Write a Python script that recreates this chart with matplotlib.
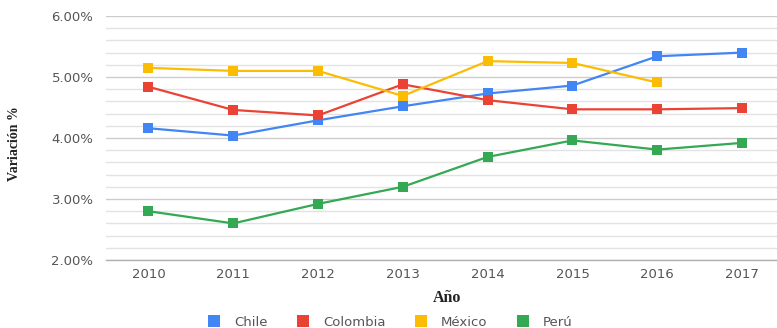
import matplotlib
matplotlib.use("Agg")
import matplotlib.pyplot as plt
from matplotlib.lines import Line2D
from matplotlib.ticker import MultipleLocator, FuncFormatter
import numpy as np

years = ["2010", "2011", "2012", "2013", "2014", "2015", "2016", "2017"]
chile = [4.16, 4.04, 4.29, 4.52, 4.73, 4.86, 5.34, 5.40]
colombia = [4.84, 4.46, 4.37, 4.88, 4.62, 4.47, 4.47, 4.49]
mexico = [5.15, 5.10, 5.10, 4.69, 5.26, 5.23, 4.91, None]
peru = [2.80, 2.60, 2.92, 3.20, 3.69, 3.96, 3.81, 3.92]

series_names = ["Chile", "Colombia", "México", "Perú"]
series_colors = ["#4285F4", "#EA4335", "#FBBC04", "#34A853"]
series_values = [chile, colombia, mexico, peru]

W, H = 777, 328
fig = plt.figure(figsize=(W / 100, H / 100), dpi=100)
left, right = 106 / W, 784.5 / W
bottom, top = 1 - 260 / H, 1 - 16 / H
ax = fig.add_axes([left, bottom, right - left, top - bottom])

x = np.arange(len(years))
for name, color, vals in zip(series_names, series_colors, series_values):
    y = np.array([np.nan if v is None else v for v in vals], dtype=float)
    ax.plot(x, y, color=color, lw=1.6, marker="s", markersize=7,
            markeredgewidth=0, label=name, zorder=3)

ax.set_xlim(-0.5, len(years) - 0.5)
ax.set_ylim(2.0, 6.0)
ax.yaxis.set_major_locator(MultipleLocator(1.0))
ax.yaxis.set_minor_locator(MultipleLocator(0.2))
ax.yaxis.set_major_formatter(FuncFormatter(lambda v, p: f"{v:.2f}%"))
ax.set_xticks(x)
ax.set_xticklabels(years)

ax.grid(which="major", axis="y", color="#cccccc", lw=1.0, zorder=0)
ax.grid(which="minor", axis="y", color="#e2e2e2", lw=1.0, zorder=0)
for s in ["top", "right", "left"]:
    ax.spines[s].set_visible(False)
ax.spines["bottom"].set_color("#b0b0b0")
ax.spines["bottom"].set_linewidth(1.0)

ax.tick_params(axis="both", which="both", length=0, colors="#555555")
ax.tick_params(axis="y", pad=9)
ax.tick_params(axis="x", pad=6)
for lab in ax.get_xticklabels() + ax.get_yticklabels():
    lab.set_fontfamily("DejaVu Sans")
    lab.set_fontsize(9.5)

fig.text(15 / W, 1 - 144 / H, "Variación %", rotation=90, ha="center", va="center",
         family="Liberation Serif", fontweight="bold", fontsize=10, color="#222222")
fig.text(447 / W, 1 - 298 / H, "Año", ha="center", va="center",
         family="Liberation Serif", fontweight="bold", fontsize=11.5, color="#222222")

handles = [Line2D([], [], color=c, marker="s", linestyle="none", markersize=8,
                  markeredgewidth=0) for c in series_colors]
leg = fig.legend(handles, series_names, loc="center", bbox_to_anchor=(390 / W, 1 - 322 / H),
                 ncol=4, frameon=False, handlelength=1.0, handletextpad=1.0,
                 columnspacing=2.2, prop=dict(family="DejaVu Sans", size=9.5))
for t in leg.get_texts():
    t.set_color("#555555")

fig.savefig("out.png", dpi=100)
